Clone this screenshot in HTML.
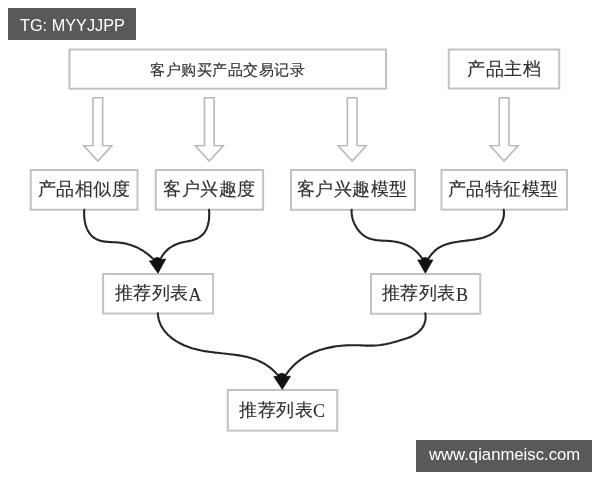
<!DOCTYPE html>
<html><head><meta charset="utf-8"><style>
html,body{margin:0;padding:0;background:#fff;width:600px;height:480px;overflow:hidden}
svg{position:absolute;left:0;top:0;will-change:transform}
</style></head><body>
<svg width="600" height="480" viewBox="0 0 600 480">
<rect x="0" y="0" width="600" height="480" fill="#fff"/>
<!-- boxes -->
<g fill="#fff" stroke="#c2c2c2" stroke-width="2">
<rect x="69.5" y="49.5" width="316.5" height="39.2"/>
<rect x="448.75" y="49.5" width="110.5" height="39"/>
<rect x="30.75" y="170" width="106.75" height="39.7"/>
<rect x="155.75" y="170" width="107.35" height="39.7"/>
<rect x="291" y="170" width="124" height="39.8"/>
<rect x="441.5" y="170" width="125.5" height="39.6"/>
<rect x="103.1" y="274" width="110" height="39.5"/>
<rect x="371" y="274" width="109.25" height="39.75"/>
<rect x="227.75" y="390" width="109.5" height="40.6"/>
</g>
<!-- hollow arrows -->
<g fill="#fff" stroke="#b8b8b8" stroke-width="1.6" stroke-linejoin="miter">
<path d="M92.95,97.7 H102.65 V145.5 L111.80,145.8 L97.80,161 L83.80,145.8 L92.95,145.5 Z"/>
<path d="M204.45,97.7 H214.15 V145.5 L223.30,145.8 L209.30,161 L195.30,145.8 L204.45,145.5 Z"/>
<path d="M347.35,97.7 H357.05 V145.5 L366.20,145.8 L352.20,161 L338.20,145.8 L347.35,145.5 Z"/>
<path d="M499.25,97.7 H508.95 V145.5 L518.10,145.8 L504.10,161 L490.10,145.8 L499.25,145.5 Z"/>
</g>
<!-- curves -->
<g fill="none" stroke="#262626" stroke-width="2.1" stroke-linecap="round" stroke-linejoin="round">
<path d="M84.3,209.7 L84.2,211.1 L84.1,212.5 L84.1,213.9 L84.2,215.4 L84.2,216.9 L84.4,218.4 L84.6,219.9 L84.8,221.4 L85.1,222.9 L85.4,224.3 L85.9,225.8 L86.3,227.2 L86.9,228.6 L87.5,229.9 L88.2,231.2 L89.0,232.4 L89.8,233.6 L90.6,234.6 L91.6,235.7 L92.6,236.6 L93.6,237.5 L94.7,238.2 L95.9,238.9 L97.1,239.5 L98.3,240.1 L99.6,240.5 L100.9,240.9 L102.3,241.2 L103.7,241.4 L105.1,241.6 L106.5,241.8 L108.0,241.9 L109.5,242.0 L111.0,242.1 L112.5,242.2 L114.0,242.2 L115.5,242.3 L117.0,242.4 L118.5,242.5 L120.0,242.7 L121.4,242.9 L122.9,243.1 L124.3,243.3 L125.8,243.6 L127.2,244.0 L128.6,244.4 L130.0,244.8 L131.3,245.2 L132.7,245.7 L134.0,246.2 L135.3,246.7 L136.6,247.3 L137.9,247.9 L139.2,248.6 L140.4,249.3 L141.7,250.0 L142.9,250.7 L144.1,251.5 L145.2,252.3 L146.4,253.2 L147.5,254.0 L148.7,254.9 L149.8,255.9 L150.9,256.8 L151.9,257.8 L153.0,258.8 L154.0,259.8 L155.0,260.9 L156.0,262.0"/>
<path d="M209.0,209.7 L209.1,210.8 L209.2,211.8 L209.2,213.0 L209.2,214.1 L209.2,215.3 L209.2,216.5 L209.1,217.7 L209.0,218.9 L208.9,220.1 L208.7,221.4 L208.4,222.6 L208.2,223.8 L207.9,225.0 L207.5,226.1 L207.1,227.3 L206.7,228.4 L206.2,229.5 L205.7,230.5 L205.1,231.5 L204.5,232.5 L203.8,233.4 L203.0,234.2 L202.3,235.0 L201.4,235.7 L200.5,236.4 L199.6,237.1 L198.7,237.6 L197.7,238.2 L196.7,238.7 L195.6,239.1 L194.5,239.5 L193.4,239.9 L192.3,240.3 L191.2,240.6 L190.0,240.9 L188.9,241.1 L187.7,241.3 L186.5,241.6 L185.4,241.8 L184.2,242.0 L183.0,242.2 L181.9,242.5 L180.7,242.8 L179.6,243.1 L178.5,243.5 L177.4,243.9 L176.4,244.3 L175.3,244.7 L174.3,245.2 L173.3,245.7 L172.3,246.3 L171.3,246.9 L170.4,247.5 L169.4,248.2 L168.5,248.9 L167.7,249.6 L166.8,250.3 L166.0,251.2 L165.2,252.0 L164.5,252.9 L163.7,253.8 L163.1,254.7 L162.4,255.7 L161.8,256.7 L161.1,257.8 L160.6,258.8 L160.0,259.9 L159.5,260.9 L159.0,262.0"/>
<path d="M351.7,209.7 L351.6,211.1 L351.6,212.5 L351.7,213.9 L351.9,215.3 L352.1,216.7 L352.5,218.1 L352.8,219.5 L353.3,220.9 L353.8,222.3 L354.4,223.7 L355.1,225.0 L355.8,226.3 L356.5,227.6 L357.3,228.9 L358.2,230.0 L359.1,231.2 L360.1,232.3 L361.1,233.3 L362.2,234.3 L363.3,235.2 L364.5,236.0 L365.6,236.7 L366.9,237.4 L368.1,238.0 L369.4,238.5 L370.7,238.9 L372.1,239.3 L373.4,239.6 L374.8,239.9 L376.2,240.1 L377.7,240.2 L379.1,240.4 L380.5,240.5 L382.0,240.6 L383.5,240.7 L384.9,240.8 L386.4,240.8 L387.9,240.9 L389.3,241.0 L390.8,241.1 L392.2,241.3 L393.7,241.5 L395.1,241.7 L396.5,241.9 L397.9,242.2 L399.3,242.5 L400.7,242.9 L402.0,243.3 L403.4,243.7 L404.7,244.2 L406.0,244.8 L407.2,245.3 L408.5,246.0 L409.7,246.6 L410.9,247.4 L412.1,248.1 L413.2,248.9 L414.3,249.8 L415.4,250.7 L416.5,251.7 L417.5,252.7 L418.5,253.8 L419.4,254.9 L420.4,256.0 L421.2,257.2 L422.1,258.4 L422.9,259.6 L423.7,260.8 L424.5,262.0"/>
<path d="M503.7,209.7 L503.9,211.2 L504.0,212.7 L504.0,214.2 L503.8,215.6 L503.6,217.1 L503.2,218.6 L502.8,220.0 L502.2,221.4 L501.6,222.8 L500.9,224.1 L500.2,225.4 L499.3,226.7 L498.5,227.9 L497.5,229.0 L496.5,230.1 L495.5,231.0 L494.4,232.0 L493.2,232.8 L492.1,233.6 L490.8,234.4 L489.6,235.0 L488.3,235.7 L487.0,236.2 L485.7,236.7 L484.3,237.2 L483.0,237.7 L481.6,238.1 L480.1,238.4 L478.7,238.7 L477.2,239.0 L475.8,239.3 L474.3,239.6 L472.8,239.8 L471.3,240.0 L469.8,240.2 L468.3,240.4 L466.7,240.6 L465.2,240.8 L463.7,241.0 L462.2,241.1 L460.7,241.3 L459.2,241.5 L457.8,241.8 L456.3,242.0 L454.8,242.2 L453.4,242.5 L451.9,242.8 L450.5,243.1 L449.1,243.5 L447.7,243.9 L446.4,244.3 L445.0,244.8 L443.7,245.3 L442.4,245.9 L441.2,246.5 L439.9,247.2 L438.7,247.9 L437.5,248.7 L436.4,249.5 L435.3,250.4 L434.2,251.4 L433.2,252.5 L432.2,253.5 L431.2,254.7 L430.3,255.9 L429.4,257.1 L428.5,258.4 L427.8,259.7 L427.0,261.0"/>
<path d="M157.9,313.4 L158.1,315.7 L158.4,317.8 L158.9,320.0 L159.6,322.0 L160.3,324.0 L161.3,325.9 L162.3,327.7 L163.5,329.5 L164.7,331.2 L166.1,332.8 L167.6,334.4 L169.1,335.8 L170.8,337.3 L172.5,338.6 L174.3,339.9 L176.1,341.1 L178.0,342.2 L179.9,343.3 L181.9,344.2 L183.9,345.2 L185.9,346.0 L187.9,346.8 L189.9,347.5 L192.0,348.2 L194.1,348.8 L196.1,349.3 L198.2,349.8 L200.3,350.3 L202.4,350.7 L204.5,351.1 L206.7,351.4 L208.8,351.7 L210.9,352.0 L213.1,352.3 L215.2,352.6 L217.4,352.8 L219.6,353.0 L221.7,353.3 L223.9,353.5 L226.1,353.7 L228.2,354.0 L230.4,354.2 L232.6,354.5 L234.7,354.8 L236.9,355.1 L239.0,355.4 L241.2,355.8 L243.3,356.2 L245.4,356.6 L247.5,357.1 L249.6,357.7 L251.6,358.3 L253.6,358.9 L255.6,359.6 L257.6,360.4 L259.5,361.2 L261.4,362.1 L263.3,363.1 L265.1,364.2 L266.9,365.3 L268.7,366.6 L270.4,367.9 L272.0,369.3 L273.6,370.7 L275.2,372.3 L276.7,373.9 L278.2,375.5 L279.6,377.2 L281.0,379.0"/>
<path d="M425.3,313.4 L425.6,316.0 L425.6,318.6 L425.2,321.0 L424.5,323.4 L423.6,325.6 L422.4,327.6 L420.9,329.5 L419.3,331.3 L417.5,332.8 L415.6,334.2 L413.5,335.4 L411.4,336.5 L409.1,337.4 L406.8,338.3 L404.4,339.1 L402.0,339.8 L399.6,340.5 L397.2,341.3 L394.8,341.9 L392.4,342.6 L390.0,343.2 L387.6,343.7 L385.2,344.2 L382.8,344.6 L380.4,345.0 L377.9,345.3 L375.5,345.5 L373.1,345.6 L370.7,345.6 L368.3,345.6 L365.9,345.6 L363.4,345.5 L361.0,345.4 L358.6,345.3 L356.1,345.3 L353.7,345.2 L351.2,345.2 L348.8,345.3 L346.3,345.4 L343.8,345.5 L341.4,345.7 L338.9,346.0 L336.5,346.3 L334.0,346.6 L331.6,347.1 L329.2,347.6 L326.8,348.1 L324.4,348.7 L322.0,349.4 L319.7,350.1 L317.4,350.9 L315.1,351.8 L312.9,352.7 L310.7,353.8 L308.5,354.8 L306.4,356.0 L304.3,357.2 L302.3,358.5 L300.3,359.9 L298.4,361.3 L296.5,362.9 L294.7,364.5 L293.0,366.2 L291.3,367.9 L289.7,369.8 L288.2,371.7 L286.7,373.7 L285.3,375.8 L284.0,378.0"/>

</g>
<g fill="#111" stroke="#111" stroke-width="0.8" stroke-linejoin="round">
<polygon points="149.4,261 165.7,259 158,273.2"/>
<circle cx="157.3" cy="261.5" r="4"/>
<polygon points="417.8,260 432.9,260 425.35,273.2"/>
<circle cx="425.2" cy="261.5" r="4"/>
<polygon points="273.75,376.6 290.5,376.3 282.25,389.3"/>
<circle cx="281.8" cy="377.3" r="4"/>
</g>
<!-- texts -->
<g font-family="Liberation Serif, serif" fill="#2e2e2e" stroke="#2e2e2e" stroke-width="0.12" text-anchor="middle">
<text x="227.75" y="74.6" font-size="15" letter-spacing="0.5">客户购买产品交易记录</text>
<text x="504.25" y="75" font-size="18" letter-spacing="0.5">产品主档</text>
<text x="84.0" y="195.2" font-size="18" letter-spacing="0.5">产品相似度</text>
<text x="209.35" y="195.2" font-size="18" letter-spacing="0.5">客户兴趣度</text>
<text x="352.25" y="195.2" font-size="18" letter-spacing="0.5">客户兴趣模型</text>
<text x="503.45" y="195.2" font-size="18" letter-spacing="0.5">产品特征模型</text>
<text x="158.35" y="299.4" font-size="18" letter-spacing="0.5">推荐列表<tspan dy="1.5">A</tspan></text>
<text x="425.15" y="299.4" font-size="18" letter-spacing="0.5">推荐列表<tspan dy="1.5">B</tspan></text>
<text x="282.35" y="415.6" font-size="18" letter-spacing="0.5">推荐列表<tspan dy="1.5">C</tspan></text>
</g>
<!-- watermarks -->
<rect x="8" y="8" width="128" height="32" fill="#595959"/>
<text x="20" y="31" font-family="Liberation Sans, sans-serif" font-size="16.3" fill="#ffffff">TG: MYYJJPP</text>
<rect x="416" y="440" width="176" height="32" fill="#595959"/>
<text x="429" y="460.3" font-family="Liberation Sans, sans-serif" font-size="16.7" fill="#ffffff">www.qianmeisc.com</text>
</svg>
</body></html>
